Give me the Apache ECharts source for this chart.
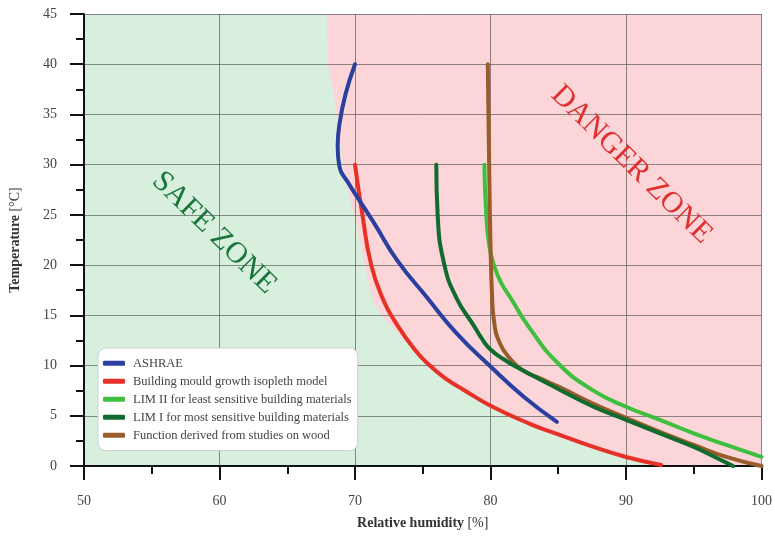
<!DOCTYPE html>
<html>
<head>
<meta charset="utf-8">
<script src="https://cdn.jsdelivr.net/npm/echarts@6/dist/echarts.min.js"></script>
<style>html,body{margin:0;padding:0;background:#fff;}#chart{width:775px;height:544px;}</style>
</head>
<body>
<div id="chart"></div>
<script>
// ---- data ----
var seriesNames = ['ASHRAE', 'Building mould growth isopleth model', 'LIM II for least sensitive building materials', 'LIM I for most sensitive building materials', 'Function derived from studies on wood'];
var seriesColors = ['#2b3fa0', '#e63129', '#3fbf3f', '#0f6b2e', '#9a5c2a'];

var ashraeX = [70.0, 69.3, 68.85, 68.72, 68.85, 69.5, 70.3, 71.4, 73.1, 75.3, 77.5, 80.0, 82.45, 84.9];
var ashraeY = [40.0, 37.0, 34.0, 31.8, 29.8, 28.2, 26.5, 24.2, 20.5, 16.8, 13.2, 9.9, 6.9, 4.4];

var isoplethX = [70.0, 70.55, 71.2, 72.1, 72.9, 74.4, 75.6, 76.8, 78.0, 80.0, 82.9, 85.1, 87.6, 90.0, 92.6];
var isoplethY = [30.0, 25.0, 20.0, 16.5, 14.5, 11.6, 9.9, 8.6, 7.6, 6.0, 4.2, 3.1, 1.9, 0.9, 0.1];

var lim2X = [79.55, 79.65, 79.9, 80.3, 80.8, 81.5, 82.8, 85.0, 87.6, 90.0, 92.5, 95.0, 97.4, 100.0];
var lim2Y = [30.0, 26.0, 22.0, 19.8, 18.2, 16.7, 13.9, 10.2, 7.5, 5.9, 4.6, 3.25, 2.1, 0.9];

var lim1X = [76.0, 76.1, 76.6, 77.5, 78.8, 79.4, 80.0, 81.0, 82.0, 85.1, 87.6, 90.0, 92.5, 95.0, 96.7, 97.9];
var lim1Y = [30.0, 25.0, 20.0, 16.7, 13.9, 12.6, 11.6, 10.6, 9.8, 7.6, 5.9, 4.6, 3.25, 1.9, 0.8, 0.0];

var woodX = [79.8, 79.9, 80.0, 80.1, 80.25, 80.7, 81.5, 82.4, 83.7, 85.1, 87.6, 90.0, 92.5, 95.0, 97.4, 100.0];
var woodY = [40.0, 30.0, 22.0, 17.5, 14.5, 12.2, 10.6, 9.5, 8.7, 7.85, 6.2, 4.8, 3.4, 2.1, 0.9, 0.0];

// danger-zone boundary (upper part, before it joins the isopleth curve)
var dangerEdgeX = [67.9, 68.0, 68.5, 68.8, 69.1, 69.6, 70.0, 70.7, 71.3, 72.0, 73.2];
var dangerEdgeY = [45, 40, 36.5, 33.2, 30.0, 26.6, 24.8, 20.0, 16.6, 14.9, 13.2];

var zoneLabels = ['SAFE ZONE', 'DANGER ZONE'];
var zoneX = [59.6, 90.4];
var zoneY = [23.2, 30.0];
var zoneColors = ['#17763a', '#e02f2f'];

var xTicks = {min: 50, max: 100, interval: 10};
var yTicks = {min: 0, max: 45, interval: 5};

// ---- chart ----
function pairs(xs, ys) { return xs.map(function (x, i) { return [x, ys[i]]; }); }
var lineData = [pairs(ashraeX, ashraeY), pairs(isoplethX, isoplethY), pairs(lim2X, lim2Y), pairs(lim1X, lim1Y), pairs(woodX, woodY)];
var zOrder = [6, 2, 3, 5, 4];
var serif = 'Liberation Serif';

// danger polygon: edge + isopleth tail + right side
var dangerPts = pairs(dangerEdgeX, dangerEdgeY);
isoplethX.forEach(function (x, i) { if (x >= 75.6) dangerPts.push([x, isoplethY[i]]); });
dangerPts.push([isoplethX[isoplethX.length - 1], yTicks.min], [xTicks.max, yTicks.min], [xTicks.max, yTicks.max]);

var series = [{
  type: 'custom',
  silent: true,
  z: 1,
  data: [dangerPts[0]],
  renderItem: function (params, api) {
    var pts = dangerPts.map(function (p) { return api.coord(p); });
    return {type: 'polygon', shape: {points: pts}, style: {fill: '#fbd5d8'}};
  }
}, {
  type: 'custom',
  silent: true,
  z: 10,
  data: zoneLabels.map(function (t, i) { return [zoneX[i], zoneY[i], i]; }),
  renderItem: function (params, api) {
    var i = api.value(2);
    var p = api.coord([api.value(0), api.value(1)]);
    return {type: 'text', x: p[0], y: p[1], rotation: -0.775,
      style: {text: zoneLabels[i], fill: zoneColors[i], font: '30px "Liberation Serif"', align: 'center', verticalAlign: 'middle'}};
  }
}];
seriesNames.forEach(function (n, i) {
  series.push({
    name: n, type: 'line', data: lineData[i], smooth: 0.5, showSymbol: false, symbol: 'none',
    z: zOrder[i], color: seriesColors[i],
    lineStyle: {width: 4, color: seriesColors[i], cap: 'round', join: 'round'}
  });
});

var axisCommon = {
  z: 1.5,
  axisLine: {show: true, onZero: false, lineStyle: {color: '#111', width: 2}},
  axisTick: {show: true, length: 14, lineStyle: {color: '#111', width: 2}},
  minorTick: {show: true, splitNumber: 2, length: 8, lineStyle: {color: '#111', width: 2}},
  splitLine: {show: true, lineStyle: {color: 'rgba(70,70,70,0.6)', width: 1}}
};
var nameRich = {b: {fontFamily: serif, fontSize: 14, fontWeight: 'bold', color: '#333'}, n: {fontFamily: serif, fontSize: 14, color: '#333'}};

var option = {
  animation: false,
  grid: {left: 82, right: 13, top: 14, bottom: 78, show: true, backgroundColor: '#d9efdd', borderWidth: 0},
  legend: {
    data: seriesNames, orient: 'vertical', left: 98, top: 348,
    icon: 'roundRect', itemWidth: 22, itemHeight: 5, itemGap: 3.5,
    backgroundColor: '#fff', borderColor: '#cfcfcf', borderWidth: 1, borderRadius: 8,
    padding: [8, 6, 8, 5],
    textStyle: {fontFamily: serif, fontSize: 12.5, color: '#444', lineHeight: 14.5, padding: [0, 0, 0, 3]}
  },
  xAxis: Object.assign({}, axisCommon, {
    type: 'value', min: xTicks.min, max: xTicks.max, interval: xTicks.interval,
    name: '{b|Relative humidity} {n|[%]}', nameLocation: 'middle', nameGap: 50, nameMoveOverlap: false,
    nameTextStyle: {rich: nameRich},
    axisLabel: {fontFamily: serif, fontSize: 14, color: '#444', margin: 28}
  }),
  yAxis: Object.assign({}, axisCommon, {
    type: 'value', min: yTicks.min, max: yTicks.max, interval: yTicks.interval,
    name: '{b|Temperature} {n|[°C]}', nameLocation: 'middle', nameGap: 62,
    nameTextStyle: {rich: nameRich},
    axisLabel: {fontFamily: serif, fontSize: 14, color: '#444', margin: 27}
  }),
  series: series
};

var chart = echarts.init(document.getElementById('chart'), null, {renderer: 'canvas'});
chart.setOption(option);
</script>
</body>
</html>
